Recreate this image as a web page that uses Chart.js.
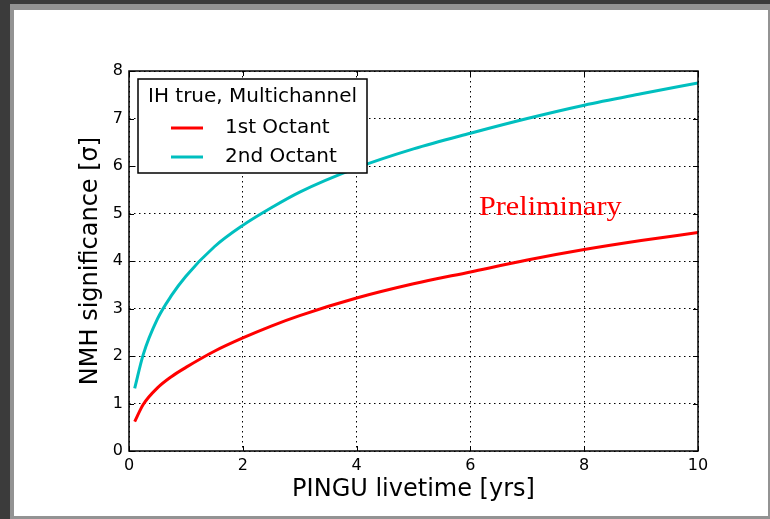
<!DOCTYPE html>
<html>
<head>
<meta charset="utf-8">
<script src="https://cdn.jsdelivr.net/npm/chart.js@4/dist/chart.umd.min.js"></script>
<style>
  html, body { margin: 0; padding: 0; background: #3b3b3b; }
  body { width: 770px; height: 519px; position: relative; overflow: hidden; }
  #frame { position: absolute; left: 10px; top: 4px; width: 760px; height: 515px; background: #939393; }
  #paper { position: absolute; left: 14px; top: 10px; width: 754px; height: 506px; background: #fff; }
  #chart { position: absolute; left: 0; top: 0; }
</style>
</head>
<body>
<div id="frame"></div>
<div id="paper"></div>
<canvas id="chart" width="770" height="519"></canvas>
<script>
// livetime in years
const years = [0.1, 0.25, 0.5, 0.75, 1, 1.5, 2, 2.5, 3, 4, 5, 6, 7, 8, 9, 10];
// NMH significance, IH true, multichannel
const octant1 = [0.62, 0.98, 1.33, 1.57, 1.76, 2.1, 2.38, 2.63, 2.85, 3.22, 3.52, 3.77, 4.02, 4.24, 4.43, 4.6];
const octant2 = [1.32, 2.03, 2.78, 3.28, 3.68, 4.3, 4.75, 5.12, 5.45, 5.96, 6.36, 6.69, 7.0, 7.28, 7.52, 7.75];
const seriesNames = ['1st Octant', '2nd Octant'];
const legendTitle = 'IH true, Multichannel';
const xTicks = [0, 2, 4, 6, 8, 10];
const yTicks = [0, 1, 2, 3, 4, 5, 6, 7, 8];

const FONT = 'DejaVu Sans';

function toPoints(xs, ys) {
  return xs.map((x, i) => ({x: x, y: ys[i]}));
}

//inward tick marks on all four sides
const tickMarks = {
  id: 'tickMarks',
  afterDatasetsDraw(chart) {
    const ctx = chart.ctx;
    const a = chart.chartArea;
    const xs = chart.scales.x, ys = chart.scales.y;
    ctx.save();
    ctx.strokeStyle = '#000';
    ctx.lineWidth = 1;
    ctx.beginPath();
    xTicks.forEach(v => {
      const px = Math.round(xs.getPixelForValue(v)) + 0.5;
      ctx.moveTo(px, a.bottom); ctx.lineTo(px, a.bottom - 5);
      ctx.moveTo(px, a.top); ctx.lineTo(px, a.top + 5);
    });
    yTicks.forEach(v => {
      const py = Math.round(ys.getPixelForValue(v)) + 0.5;
      ctx.moveTo(a.left, py); ctx.lineTo(a.left + 5, py);
      ctx.moveTo(a.right, py); ctx.lineTo(a.right - 5, py);
    });
    ctx.stroke();
    ctx.lineWidth = 1.5;
    ctx.strokeRect(a.left, a.top, a.right - a.left, a.bottom - a.top);
    ctx.restore();
  }
};

//"Preliminary" label placed in data coordinates
const prelim = {
  id: 'prelim',
  afterDatasetsDraw(chart) {
    const ctx = chart.ctx;
    const px = chart.scales.x.getPixelForValue(6.15);
    const py = chart.scales.y.getPixelForValue(4.97);
    ctx.save();
    ctx.translate(px, py);
    ctx.scale(1.12, 1);
    ctx.fillStyle = '#ff0000';
    ctx.font = '27px "Liberation Serif"';
    ctx.textAlign = 'left';
    ctx.textBaseline = 'alphabetic';
    ctx.fillText('Preliminary', 0, 0);
    ctx.restore();
  }
};

//boxed legend in upper left corner
const boxLegend = {
  id: 'boxLegend',
  afterDraw(chart) {
    const ctx = chart.ctx;
    const a = chart.chartArea;
    const x0 = a.left + 9, y0 = a.top + 8, w = 229, h = 94;
    ctx.save();
    ctx.fillStyle = '#fff';
    ctx.fillRect(x0, y0, w, h);
    ctx.strokeStyle = '#000';
    ctx.lineWidth = 1.5;
    ctx.strokeRect(x0, y0, w, h);
    ctx.fillStyle = '#000';
    ctx.font = '20px ' + FONT;
    ctx.textBaseline = 'middle';
    ctx.fillText(legendTitle, x0 + 10, y0 + 18);
    chart.data.datasets.forEach((ds, i) => {
      const cy = y0 + 49 + i * 29;
      ctx.strokeStyle = ds.borderColor;
      ctx.lineWidth = 3;
      ctx.beginPath();
      ctx.moveTo(x0 + 33, cy);
      ctx.lineTo(x0 + 65, cy);
      ctx.stroke();
      ctx.fillStyle = '#000';
      ctx.fillText(ds.label, x0 + 87, cy);
    });
    ctx.restore();
  }
};

const dotted = {display: false, dash: [1.5, 3.5]};

new Chart(document.getElementById('chart'), {
  type: 'line',
  data: {
    datasets: [
      {label: seriesNames[0], data: toPoints(years, octant1), borderColor: '#ff0000', borderWidth: 3, pointRadius: 0, cubicInterpolationMode: 'monotone', fill: false},
      {label: seriesNames[1], data: toPoints(years, octant2), borderColor: '#00bfbf', borderWidth: 3, pointRadius: 0, cubicInterpolationMode: 'monotone', fill: false}
    ]
  },
  options: {
    responsive: false,
    animation: false,
    layout: {padding: {left: 0, top: 71, right: 72, bottom: 0}},
    plugins: {legend: {display: false}, tooltip: {enabled: false}},
    scales: {
      x: {
        type: 'linear', min: 0, max: 10,
        afterBuildTicks: s => { s.ticks = xTicks.map(v => ({value: v})); },
        afterFit: s => { s.height = 68; },
        border: dotted,
        grid: {color: '#000', lineWidth: 1, drawTicks: false},
        ticks: {color: '#000', font: {family: FONT, size: 16}, padding: 5, maxRotation: 0},
        title: {display: true, text: 'PINGU livetime [yrs]', color: '#000', font: {family: FONT, size: 24}, padding: {top: 0, bottom: 15}}
      },
      y: {
        type: 'linear', min: 0, max: 8,
        afterBuildTicks: s => { s.ticks = yTicks.map(v => ({value: v})); },
        afterFit: s => { s.width = 129; },
        border: dotted,
        grid: {color: '#000', lineWidth: 1, drawTicks: false},
        ticks: {color: '#000', font: {family: FONT, size: 16}, padding: 6},
        title: {display: true, text: 'NMH significance [σ]', color: '#000', font: {family: FONT, size: 24}, padding: {top: 76, bottom: 0}}
      }
    }
  },
  plugins: [tickMarks, prelim, boxLegend]
});
</script>
</body>
</html>
